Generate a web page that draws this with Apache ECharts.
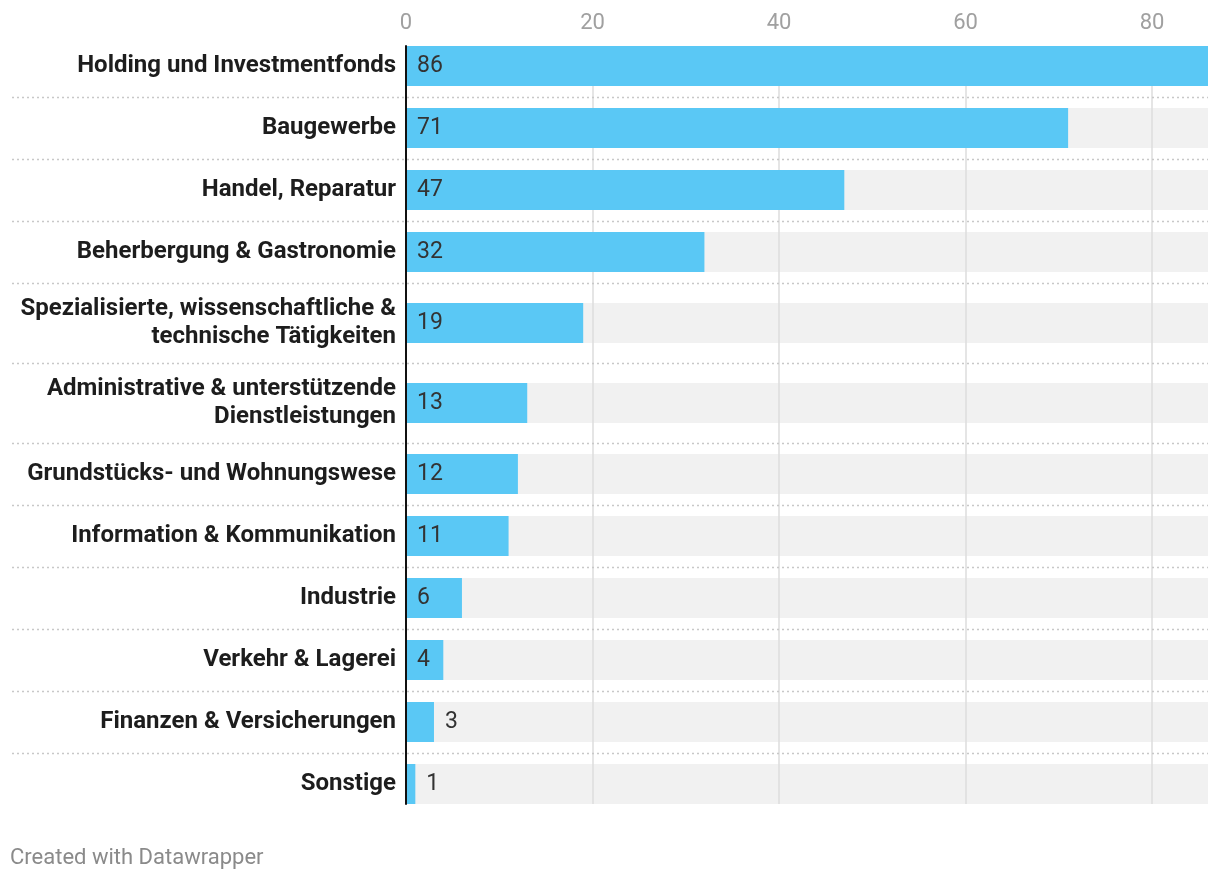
<!DOCTYPE html>
<html>
<head>
<meta charset="utf-8">
<script src="https://cdn.jsdelivr.net/npm/echarts@6/dist/echarts.min.js"></script>
<style>
html,body{margin:0;padding:0;background:#fff;}
#chart{width:1220px;height:880px;}
</style>
</head>
<body>
<div id="chart"></div>
<script>
// ---- data ----
const categories = [
  'Holding und Investmentfonds',
  'Baugewerbe',
  'Handel, Reparatur',
  'Beherbergung & Gastronomie',
  'Spezialisierte, wissenschaftliche &\ntechnische Tätigkeiten',
  'Administrative & unterstützende\nDienstleistungen',
  'Grundstücks- und Wohnungswese',
  'Information & Kommunikation',
  'Industrie',
  'Verkehr & Lagerei',
  'Finanzen & Versicherungen',
  'Sonstige'
];
const values = [86, 71, 47, 32, 19, 13, 12, 11, 6, 4, 3, 1];
const xMin = 0;
const xMax = 86;
const xInterval = 20;
const footerText = 'Created with Datawrapper';

// ---- layout ----
const FONT = 'Roboto, "Noto Sans", sans-serif';
const W = 1220;
const LEFT = 406, RIGHT = 12;
const BAR_H = 40;
const ROW_H1 = 62, ROW_H2 = 80;
const FIRST_CENTER = 66;

const rowH = categories.map(c => c.indexOf('\n') >= 0 ? ROW_H2 : ROW_H1);
const centers = [];
let c = FIRST_CENTER;
for (let i = 0; i < categories.length; i++) {
  if (i > 0) c += (rowH[i - 1] + rowH[i]) / 2;
  centers.push(c);
}
const plotTop = centers[0] - BAR_H / 2;
const plotBottom = centers[centers.length - 1] + BAR_H / 2;

const grid = [{ left: LEFT, right: RIGHT, top: plotTop, height: plotBottom - plotTop }];
const xAxis = [{
  gridIndex: 0, type: 'value', position: 'top', min: xMin, max: xMax, interval: xInterval,
  z: 1,
  axisLine: { show: false }, axisTick: { show: false },
  axisLabel: { color: '#a0a0a0', fontSize: 22, fontFamily: FONT, margin: 12, showMaxLabel: false },
  splitLine: { show: true, showMaxLine: false, lineStyle: { color: '#dcdcdc', width: 1.5 } }
}];
const yAxis = [{
  gridIndex: 0, type: 'value', min: 0, max: 1, z: 5,
  axisLine: { show: true, lineStyle: { color: '#111', width: 2 } },
  axisTick: { show: false }, axisLabel: { show: false }, splitLine: { show: false }
}];
const series = [];
const graphics = [];

categories.forEach((cat, i) => {
  const gi = i + 1;
  grid.push({ left: LEFT, right: RIGHT, top: centers[i] - BAR_H / 2, height: BAR_H });
  xAxis.push({ gridIndex: gi, type: 'value', min: xMin, max: xMax, show: false });
  yAxis.push({
    gridIndex: gi, type: 'category', data: [cat],
    axisLine: { show: false }, axisTick: { show: false },
    axisLabel: {
      color: '#1d1d1d', fontSize: 24, fontWeight: 'bold', fontFamily: FONT,
      margin: 10, lineHeight: 28, align: 'right', padding: [2, 0, 0, 0]
    }
  });
  // full-width background track
  series.push({
    type: 'bar', xAxisIndex: gi, yAxisIndex: gi, data: [xMax], silent: true,
    barWidth: BAR_H, z: 0, itemStyle: { color: '#f1f1f1' }, label: { show: false }
  });
  const v = values[i];
  series.push({
    type: 'bar', xAxisIndex: gi, yAxisIndex: gi, data: [v],
    barWidth: BAR_H, barGap: '-100%', z: 2,
    itemStyle: { color: '#5ac8f5' },
    label: {
      show: true, position: v >= 4 ? 'insideLeft' : 'right', distance: 11,
      color: '#333', fontSize: 23, fontFamily: FONT, padding: [2, 0, 0, 0]
    }
  });
  if (i < categories.length - 1) {
    const y = Math.round(centers[i] + rowH[i] / 2) + 0.5;
    graphics.push({
      type: 'line', z: 10,
      shape: { x1: 12, y1: y, x2: W - RIGHT, y2: y },
      style: { stroke: '#c8c8c8', lineWidth: 1.5, lineDash: [2, 3] }
    });
  }
});

graphics.push({
  type: 'text', left: 10, top: 847,
  style: { text: footerText, fill: '#8a8a8a', fontSize: 22, fontFamily: FONT }
});

const chart = echarts.init(document.getElementById('chart'));
chart.setOption({
  backgroundColor: '#fff',
  animation: false,
  grid, xAxis, yAxis, series,
  graphic: graphics
});
</script>
</body>
</html>
